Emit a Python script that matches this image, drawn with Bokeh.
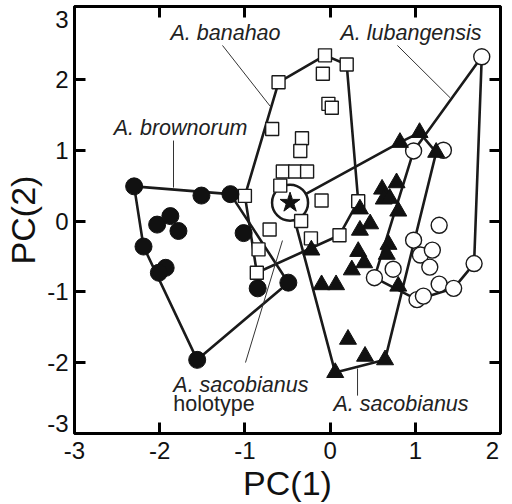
import numpy as np
from bokeh.plotting import figure
from bokeh.models import LinearAxis, Range1d, FixedTicker, Label, CustomJSTickFormatter
from bokeh.embed import file_html
from bokeh.resources import INLINE

# ---- data ----
brownorum_x = [-2.30, -1.51, -1.17, -2.03, -1.875, -1.78, -2.19, -1.93, -2.01, -1.015, -0.85, -0.49, -1.56]
brownorum_y = [0.49, 0.36, 0.38, -0.05, 0.07, -0.14, -0.36, -0.66, -0.73, -0.17, -0.95, -0.87, -1.96]

banahao_x = [-0.605, -0.06, 0.195, -0.085, -0.02, 0.02, -0.68, -0.33, -0.35, -0.555, -0.41, -0.27,
             -0.585, -1.0, -0.10, 0.33, -0.34, -0.71, -0.225, 0.11, -0.84, -0.86]
banahao_y = [1.96, 2.34, 2.21, 2.08, 1.655, 1.60, 1.30, 1.17, 0.99, 0.70, 0.70, 0.70,
             0.50, 0.355, 0.29, 0.28, 0.0, -0.12, -0.245, -0.20, -0.40, -0.73]

lubangensis_x = [1.78, 0.98, 1.33, 1.28, 0.98, 1.06, 1.20, 1.17, 0.74, 0.52, 1.69, 1.28, 1.45, 1.02, 1.095]
lubangensis_y = [2.32, 0.99, 1.00, -0.06, -0.27, -0.48, -0.41, -0.65, -0.68, -0.80, -0.60, -0.89, -0.95, -1.11, -1.06]

sacobianus_x = [0.82, 1.05, 1.245, 0.61, 0.78, 0.63, 0.70, 0.80, 0.35, 0.47, 0.35, 0.33, 0.40, 0.255,
                -0.10, 0.07, -0.22, 0.685, 0.665, 0.80, 0.21, 0.41, 0.645, 0.06]
sacobianus_y = [1.11, 1.25, 0.97, 0.45, 0.54, 0.31, 0.32, 0.14, 0.17, -0.04, -0.13, -0.43, -0.59, -0.69,
                -0.90, -0.90, -0.41, -0.33, -0.47, -0.92, -1.67, -1.91, -1.96, -2.14]

holotype_x = [-0.47]
holotype_y = [0.26]

x_tick_marks = [-2, -1, 0, 1]
y_tick_marks = [-2, -1, 0, 1, 2]
x_tick_labels = ["-3", "-2", "-1", "0", "1", "2"]
y_tick_labels = ["-3", "-2", "-1", "0", "1", "2", "3"]
x_label = "PC(1)"
y_label = "PC(2)"
group_labels = ["A. banahao", "A. lubangensis", "A. brownorum", "A. sacobianus", "holotype", "A. sacobianus"]


def convex_hull(xs, ys):
    pts = sorted(set(zip(xs, ys)))

    def cross(o, a, b):
        return (a[0] - o[0]) * (b[1] - o[1]) - (a[1] - o[1]) * (b[0] - o[0])

    lower = []
    for q in pts:
        while len(lower) >= 2 and cross(lower[-2], lower[-1], q) <= 0:
            lower.pop()
        lower.append(q)
    upper = []
    for q in reversed(pts):
        while len(upper) >= 2 and cross(upper[-2], upper[-1], q) <= 0:
            upper.pop()
        upper.append(q)
    h = lower[:-1] + upper[:-1]
    h.append(h[0])
    return [a for a, _ in h], [b for _, b in h]


FONT = "Liberation Sans"
INK = "#1a1a1a"

p = figure(width=512, height=504, x_range=Range1d(-3, 2), y_range=Range1d(-3, 3.03),
           output_backend="svg", toolbar_location=None,
           min_border_left=74, min_border_right=12, min_border_top=6, min_border_bottom=71)
p.grid.visible = False
p.outline_line_color = "black"
p.outline_line_width = 3
p.background_fill_color = "white"
p.border_fill_color = "white"

# label anchors: the labels at the frame corners are nudged inwards, as in the original
x_label_pos = [-3, -2, -1, 0, 1, 1.906]
y_label_pos = [-2.86, -2, -1, 0, 1, 2, 2.84]


def make_formatter(pos, labels):
    return CustomJSTickFormatter(args=dict(pos=pos, labels=labels), code="""
        let best = 0, d = 1e9;
        for (let i = 0; i < pos.length; i++) {
            const e = Math.abs(pos[i] - tick);
            if (e < d) { d = e; best = i; }
        }
        return labels[best];
    """)


def style_axis(ax):
    ax.major_tick_in = 0
    ax.major_tick_out = 0
    ax.minor_tick_in = 11
    ax.minor_tick_out = 0
    ax.axis_line_width = 3
    ax.axis_line_color = "black"
    ax.minor_tick_line_width = 3
    ax.minor_tick_line_color = "black"
    ax.major_label_text_font = FONT
    ax.major_label_text_color = "#111111"
    ax.major_label_text_font_size = "24px"
    ax.axis_label_text_font = FONT
    ax.axis_label_text_font_size = "34px"
    ax.axis_label_text_font_style = "normal"
    ax.axis_label_text_color = "#111111"
    ax.axis_label_standoff = 2


xa = p.xaxis[0]
ya = p.yaxis[0]
style_axis(xa)
style_axis(ya)
xa.ticker = FixedTicker(ticks=x_label_pos, minor_ticks=x_tick_marks)
ya.ticker = FixedTicker(ticks=y_label_pos, minor_ticks=y_tick_marks)
xa.formatter = make_formatter(x_label_pos, x_tick_labels)
ya.formatter = make_formatter(y_label_pos, y_tick_labels)
xa.major_label_standoff = 8
ya.major_label_standoff = 6
xa.axis_label = x_label
ya.axis_label = y_label

# top and right axes: tick marks only (drawn as minor ticks, so no labels)
for loc, ticks in (("right", y_tick_marks), ("above", x_tick_marks)):
    ax = LinearAxis(ticker=FixedTicker(ticks=[], minor_ticks=ticks))
    ax.axis_line_width = 3
    ax.axis_line_color = "black"
    ax.major_tick_in = 0
    ax.major_tick_out = 0
    ax.minor_tick_in = 11
    ax.minor_tick_out = 0
    ax.minor_tick_line_width = 3
    ax.minor_tick_line_color = "black"
    p.add_layout(ax, loc)

# ---- hull outlines ----
for gx, gy in [(brownorum_x, brownorum_y), (banahao_x, banahao_y),
               (lubangensis_x, lubangensis_y),
               (sacobianus_x + holotype_x, sacobianus_y + holotype_y)]:
    hx, hy = convex_hull(gx, gy)
    p.line(hx, hy, line_color=INK, line_width=2.6)

# ---- leader lines ----
leaders = [((-1.263, -0.70), (2.48, 1.617)),
           ((0.79, 1.41), (2.48, 1.74)),
           ((-1.838, -1.838), (1.137, 0.473)),
           ((-0.559, -0.993), (-0.275, -1.998)),
           ((0.322, 0.322), (-2.083, -2.465))]
for lx, ly in leaders:
    p.line(list(lx), list(ly), line_color="#333333", line_width=1)

# ---- holotype ring ----
p.scatter(holotype_x, holotype_y, marker="circle", size=36, fill_color="white",
          line_color=INK, line_width=2.5)

# ---- markers ----
p.scatter(lubangensis_x, lubangensis_y, marker="circle", size=16, fill_color="white",
          line_color=INK, line_width=1.4)
p.scatter(banahao_x, banahao_y, marker="square", size=13, fill_color="white",
          line_color=INK, line_width=1.4)
p.scatter(brownorum_x, brownorum_y, marker="circle", size=17, fill_color="#111111",
          line_color="#111111", line_width=1)
p.scatter(sacobianus_x, sacobianus_y, marker="triangle", size=17, fill_color="#111111",
          line_color="#111111", line_width=1)
p.scatter(holotype_x, holotype_y, marker="star", size=21, fill_color="#111111",
          line_color="#111111", line_width=1)

# ---- group labels ----
label_pos = [(-1.873, 2.65, "italic"), (0.122, 2.65, "italic"), (-2.54, 1.31, "italic"),
             (-1.84, -2.32, "italic"), (-1.84, -2.58, "normal"), (0.04, -2.58, "italic")]
for (lx, ly, st), txt in zip(label_pos, group_labels):
    p.add_layout(Label(x=lx, y=ly, text=txt, text_font=FONT, text_font_size="21.5px",
                       text_font_style=st, text_baseline="middle", text_align="left",
                       text_color="#222222"))

open("out.html", "w").write(file_html(p, INLINE))
